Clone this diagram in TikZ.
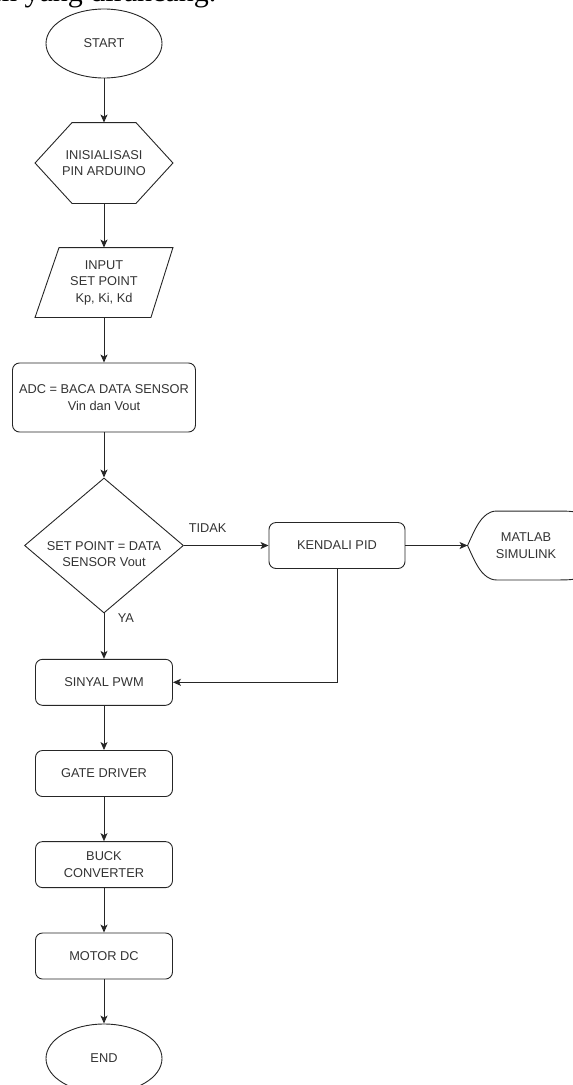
\documentclass[tikz,border=0pt]{standalone}
\usepackage{fontspec}
\setmainfont{Liberation Sans}
\newfontfamily\capfont{Liberation Serif}
\usetikzlibrary{arrows.meta,shapes.geometric}

\begin{document}
\begin{tikzpicture}[x=1bp, y=-1bp, line width=0.9bp, color=black!85,
	every node/.style={font=\fontsize{12.8bp}{16.5bp}\selectfont, text=black!80, align=center},
	term/.style={ellipse, draw, minimum width=116bp, minimum height=69bp, inner sep=0},
	proc/.style={rectangle, rounded corners=7bp, draw, minimum width=137bp, minimum height=46bp, inner sep=0},
	plain/.style={inner sep=0},
	conn/.style={-{Stealth[length=8bp, width=7bp, inset=2bp]}}]
			%%%%% START %%%%%
			
			\useasboundingbox (0, 0) rectangle (573, 1085);
			\clip (0, 0) rectangle (573, 1085);
			
			\node[font=\capfont\fontsize{30bp}{36bp}\selectfont, text=black, anchor=base east] (cap) at (220, 1.5) {m yang dirancang.};
			
			\node[term] (start) at (104, 43.5) {START};
			
			\node[plain, minimum width=137bp, minimum height=80bp] (init) at (104, 163) {INISIALISASI\\PIN ARDUINO};
			\draw (init.west) -- ([xshift=37bp]init.north west) -- ([xshift=-37bp]init.north east) -- (init.east) -- ([xshift=-37bp]init.south east) -- ([xshift=37bp]init.south west) -- cycle;
			
			\node[plain, minimum width=137bp, minimum height=69bp] (inp) at (104, 282.5) {INPUT\\SET POINT\\Kp, Ki, Kd};
			\draw ([xshift=24bp]inp.north west) -- (inp.north east) -- ([xshift=-22bp]inp.south east) -- (inp.south west) -- cycle;
			
			\node[proc, minimum width=183bp, minimum height=69bp] (adc) at (104, 397.5) {ADC = BACA DATA SENSOR\\Vin dan Vout};
			
			\node[diamond, draw, minimum width=159bp, minimum height=135bp, inner sep=0] (dec) at (104, 545.5) {};
			\node[plain] (dectxt) at (104, 554) {SET POINT = DATA\\SENSOR Vout};
			
			\node[proc, minimum width=136bp] (pid) at (337, 545.5) {KENDALI PID};
			
			\node[plain, minimum width=116bp, minimum height=68bp] (mat) at (526, 545.5) {MATLAB\\SIMULINK};
			\draw (mat.west) .. controls ([xshift=7bp, yshift=15bp]mat.west) and ([xshift=14bp]mat.north west) .. ([xshift=29bp]mat.north west) -- ([xshift=-29bp]mat.north east) .. controls (mat.north east) .. (mat.east) .. controls (mat.south east) .. ([xshift=-29bp]mat.south east) -- ([xshift=29bp]mat.south west) .. controls ([xshift=14bp]mat.south west) and ([xshift=7bp, yshift=-15bp]mat.west) .. (mat.west) -- cycle;
			
			\node[proc] (pwm) at (104, 682.3) {SINYAL PWM};
			\node[proc] (gate) at (104, 773.5) {GATE DRIVER};
			\node[proc] (buck) at (104, 864.6) {BUCK\\CONVERTER};
			\node[proc] (motor) at (104, 956) {MOTOR DC};
			
			\node[term] (end) at (104, 1058.5) {END};
			
			\draw[conn] (start.south) -- (init.north);
			\draw[conn] (init.south) -- (inp.north);
			\draw[conn] (inp.south) -- (adc.north);
			\draw[conn] (adc.south) -- (dec.north);
			\draw[conn] (dec.east) -- node[above=9bp, pos=0.28] (tidak) {TIDAK} (pid.west);
			\draw[conn] (pid.east) -- (mat.west);
			\draw[conn] (dec.south) -- node[right=10bp, pos=0.1] (ya) {YA} (pwm.north);
			\draw[conn] (pid.south) |- (pwm.east);
			\draw[conn] (pwm.south) -- (gate.north);
			\draw[conn] (gate.south) -- (buck.north);
			\draw[conn] (buck.south) -- (motor.north);
			\draw[conn] (motor.south) -- (end.north);
			
			%%%%% END %%%%%
\end{tikzpicture}
\end{document}
